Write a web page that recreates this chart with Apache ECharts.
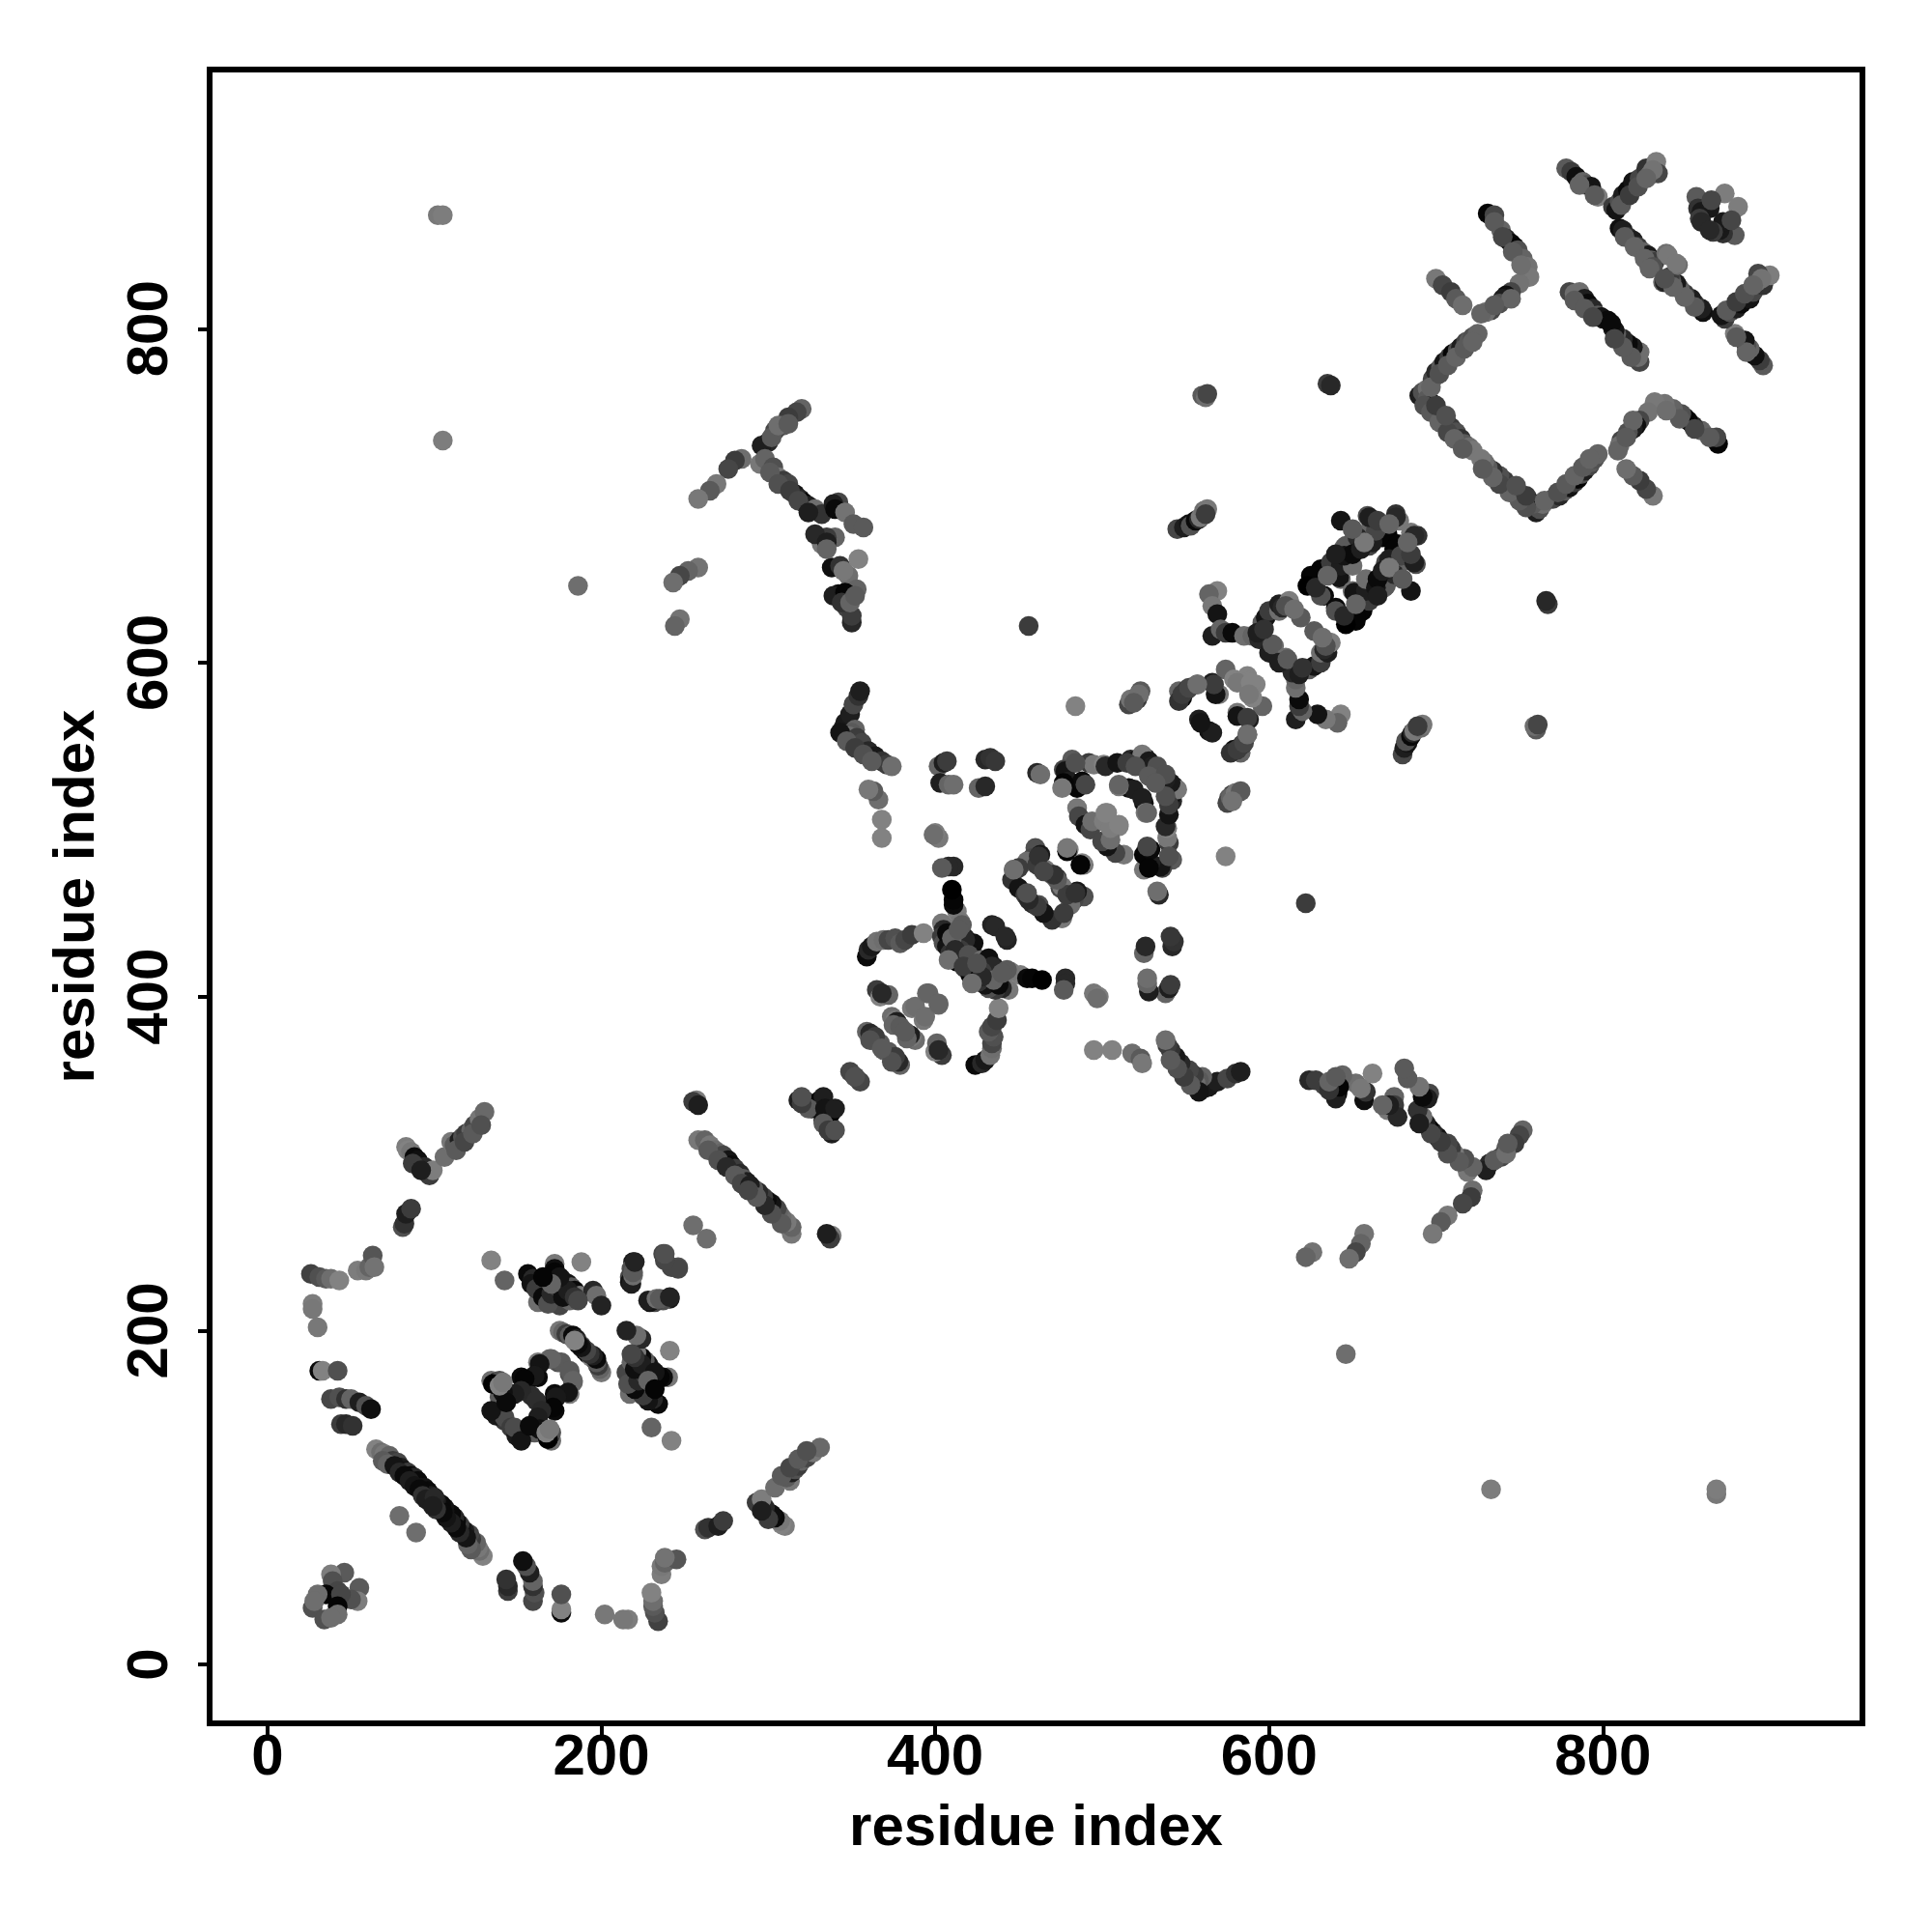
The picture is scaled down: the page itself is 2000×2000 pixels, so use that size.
<!DOCTYPE html>
<html><head><meta charset="utf-8">
<script src="https://cdn.jsdelivr.net/npm/echarts@6/dist/echarts.min.js"></script>
<style>html,body{margin:0;background:#fff}#c{width:2000px;height:2000px}</style></head>
<body><div id="c"></div>
<script>
// contacts: [residue i, residue j, grey score]; the map is symmetric, i < j listed
const tickLabels = [0, 200, 400, 600, 800];
const lowLeft = [[46,55,90],[38,54,125],[39,50,80],[42,44,70],[35,42,5],[30,42,110],[27,34,80],[28,38,110]];
const crossBand1 = [[65,129,130],[68,127,110],[70,126,120],[73,125,100],[75,122,60],[78,121,70],[80,118,30],[82,116,20],[84,115,60],[86,113,10],[88,112,40],[90,110,10],[92,106,30],[94,106,20],[96,104,10],[98,101,30],[100,100,40],[79,89,110]];
const leftEdge = [[26,234,65],[31,232,80],[35,231,90],[38,231,110],[43,230,130],[54,236,125],[59,236,120],[61,238,100],[63,245,85],[64,238,115],[27,216,125],[27,213,120],[30,202,120],[31,176,10],[33,176,130],[42,176,80],[38,159,70],[43,160,80],[47,159,50],[50,159,100],[55,157,30],[59,155,80],[62,153,15],[44,144,60],[47,144,40],[51,143,50]];
const upperArm1 = [[83,310,125],[84,308,130],[86,307,120],[88,304,10],[90,302,15],[94,298,40],[97,293,60],[99,296,125],[106,304,110],[110,313,120],[112,311,90],[115,314,30],[117,316,80],[119,318,60],[122,320,100],[124,323,70],[127,327,120],[130,331,105],[81,262,80],[82,264,50],[83,270,30],[86,273,60]];
const blockTop = [[134,242,130],[142,230,100],[156,234,10],[159,231,40],[163,228,30],[166,224,20],[169,221,50],[172,218,25],[175,215,70],[162,217,110],[172,240,120],[172,237,15],[172,235,5],[176,231,90],[178,229,50],[180,228,20],[182,226,90],[184,224,10],[187,221,120],[188,241,130],[195,224,40],[197,221,110],[200,215,35],[178,222,60],[181,218,100]];
const blockRight = [[219,241,25],[218,237,80],[217,232,70],[217,229,20],[237,246,70],[242,238,70],[246,238,80],[218,228,30],[219,233,110],[219,235,90],[220,241,35]];
const blockMid = [[175,200,120],[177,199,100],[179,198,60],[181,197,90],[183,197,10],[185,195,30],[186,193,50],[188,191,70],[190,188,20],[192,186,10],[194,184,130]];
const ring1 = [[134,170,110],[137,169,10],[139,170,80],[139,160,90],[143,158,120],[146,162,50],[152,172,10],[156,170,5],[162,172,10],[162,181,125],[169,183,105],[174,181,80],[176,181,90],[170,183,100],[163,180,20],[160,173,25],[154,171,5],[158,161,45],[152,164,40],[148,162,30],[141,163,15],[139,151,10],[142,146,60],[137,149,25],[142,148,75],[134,152,20],[143,157,10],[135,168,0],[139,167,130],[141,169,120]];
const band2 = [[255,263,110],[258,314,120],[262,314,100],[265,311,120],[268,308,110],[271,306,100],[273,305,70],[276,302,20],[278,299,10],[280,297,60],[283,294,40],[285,291,90],[287,289,30],[257,338,125],[255,337,60],[258,335,30]];
const block3 = [[318,338,30],[323,337,50],[326,333,15],[331,338,0],[333,334,20],[333,340,30],[324,333,90],[320,336,60],[320,340,80],[349,355,70],[352,352,80]];
const cluster4 = [[359,379,100],[361,378,40],[363,374,30],[365,373,120],[367,372,90],[364,376,60],[374,388,110],[376,386,120],[377,385,30],[365,404,60],[367,400,130],[372,401,100],[368,402,40],[386,393,120],[388,394,110],[395,402,105],[396,402,100]];
const band5 = [[359,424,10],[360,428,40],[362,430,25],[365,433,115],[369,434,110],[372,434,70],[376,435,80],[379,432,90],[382,434,70],[386,437,60],[393,438,130],[404,444,120],[405,440,40],[404,436,60],[405,432,80],[407,430,20],[409,426,50],[412,422,30],[413,451,125],[415,445,120],[417,436,100],[420,432,60],[422,428,110],[415,423,40],[418,426,20],[418,435,30],[423,432,15],[418,434,40],[415,428,60],[413,421,5],[407,438,10],[416,443,90],[434,443,35],[436,442,40]];
const band6 = [[411,455,10],[411,458,5],[410,464,0],[411,478,40],[408,478,40],[404,477,90],[402,495,120],[400,498,125],[399,497,110],[368,506,130],[368,495,130],[366,518,110],[363,523,90],[360,524,120],[345,561,40],[346,564,25],[349,569,30],[351,575,70],[354,580,50],[355,583,30],[352,560,100],[350,558,90],[348,556,110],[353,555,60],[356,552,70],[360,547,40],[364,544,25],[368,541,50],[371,539,60],[374,538,110]];
const block7 = [[402,538,100],[405,540,30],[407,541,60],[403,528,30],[408,527,100],[411,527,110],[426,525,100],[430,526,40],[430,542,40],[433,543,50],[436,541,55],[461,534,40],[463,533,110],[484,574,130],[456,622,60]];
const block8 = [[460,489,80],[458,483,70],[461,480,30],[463,485,25],[466,476,120],[447,476,120],[446,470,50],[450,465,20],[454,461,60],[458,456,40],[462,455,80],[455,481,110],[450,477,60],[480,488,130],[479,487,5],[489,479,120],[461,479,60],[462,484,50],[470,473,90],[473,471,50],[475,465,70],[476,447,110]];
const ring9 = [[482,542,90],[477,536,70],[478,535,20],[480,529,30],[485,525,5],[488,529,10],[492,540,60],[495,539,120],[501,539,130],[502,538,40],[509,540,20],[517,542,40],[521,542,15],[526,543,30],[524,545,120],[528,541,25],[530,538,30],[533,538,80],[485,513,120],[486,508,70],[490,503,20],[493,500,70],[494,505,110],[501,505,125],[503,510,130],[510,502,130],[516,525,15],[519,524,30],[510,526,120],[510,527,100],[490,527,70],[477,528,5],[484,540,80],[525,476,120]];
const arm10 = [[516,575,70],[519,577,100],[522,580,120],[523,583,90],[517,578,115],[578,521,60],[581,522,110],[576,519,90],[560,760,90],[562,759,110],[563,761,70],[635,767,60],[637,766,40],[186,646,110],[102,868,120],[105,868,125],[105,733,125]];
const diag11 = [[545,680,70],[549,681,30],[552,683,20],[553,682,80],[556,685,10],[558,686,40],[559,687,120],[561,691,110],[563,692,120],[562,689,60]];
const diag12 = [[569,643,130],[564,641,100],[566,634,120],[569,629,20],[566,616,30],[571,620,100],[574,618,60],[578,618,10],[585,616,110],[592,617,70],[590,616,100],[594,614,40],[596,624,90],[598,627,20],[600,631,60],[606,631,110],[606,635,30],[612,636,70],[612,637,125],[619,627,90],[603,610,110],[600,606,30],[602,611,90],[608,633,40],[610,634,80],[615,632,110],[593,618,30],[597,620,50]];
const diag13 = [[546,583,100],[548,579,10],[551,584,40],[557,587,100],[566,588,30],[570,581,120],[574,596,100],[579,590,130],[587,592,130],[588,589,130],[581,588,120],[568,581,20],[567,587,60],[558,566,30],[564,559,20],[546,577,50],[548,581,60],[552,585,70],[557,587,110]];
const diag14 = [[643,685,20],[659,688,80],[661,684,120],[676,689,50],[678,685,120],[676,687,40],[671,677,5],[668,675,5],[661,680,100],[650,672,15],[645,669,110],[660,670,70],[662,672,30],[664,679,70],[660,687,30],[625,652,5],[631,656,5],[637,660,60],[643,650,110],[633,640,10],[627,652,5],[623,646,0],[631,640,80],[642,651,20],[643,658,30],[646,670,90],[653,675,40],[650,658,110],[645,664,20],[650,665,10],[655,668,30],[657,672,120]];
const armS = [[320,752,100],[317,750,70],[312,747,60],[309,742,90],[304,739,70],[300,732,40],[296,730,30],[295,719,120],[298,722,100],[303,717,80],[306,711,120],[309,709,60],[312,707,70],[316,701,20],[319,698,40],[321,696,0],[324,694,30],[328,692,110],[332,689,50],[342,696,70],[339,695,30],[340,692,10],[346,690,115],[351,683,90],[357,681,90],[332,671,120],[340,675,100],[335,675,60],[328,677,40],[335,672,30],[338,657,15],[343,658,50],[354,662,130],[348,652,110],[353,644,100],[342,641,10],[339,640,30],[346,642,5],[347,633,70],[350,624,40],[350,628,60],[284,722,110],[280,721,60],[276,716,70],[269,707,120],[265,703,90],[258,698,120],[258,657,115],[252,655,100],[247,652,70],[243,648,110],[247,626,115],[244,622,100]];
const ringW = [[690,760,30],[692,762,80],[695,764,110],[698,770,70],[700,774,40],[703,777,90],[705,780,20],[708,783,60],[710,785,5],[713,787,80],[715,789,30],[718,792,70],[720,793,90],[722,795,80],[725,797,100],[695,758,90],[698,755,10],[700,751,50],[703,748,90],[706,745,40],[709,741,60],[712,738,80],[715,734,50],[717,731,90],[720,729,110],[722,727,120]];
const ringW2 = [[731,869,5],[735,868,70],[739,859,100],[742,854,40],[745,851,10],[747,849,5],[749,847,80],[752,842,100],[755,837,115],[756,831,120],[750,827,115],[745,822,70],[742,820,15],[740,818,30],[733,811,70],[730,810,110],[727,809,100],[700,830,120],[704,826,70],[709,822,60],[712,818,90],[716,814,110]];
const upperW = [[780,822,70],[783,821,110],[786,822,110],[789,818,30],[791,815,10],[794,812,40],[797,808,90],[800,806,30],[799,807,20],[803,805,10],[778,896,90],[781,894,60],[784,891,15],[788,888,100],[790,886,80],[793,885,20],[797,879,125],[810,860,15],[812,859,30],[815,855,50],[818,853,30],[821,849,60],[824,846,100],[827,844,25],[829,841,90],[831,840,60],[828,837,35],[838,845,110],[839,844,120],[836,828,100],[806,873,60],[808,871,20],[810,876,80],[812,880,30],[815,883,10],[818,888,20],[822,890,70],[826,896,50],[828,892,110],[832,900,125],[833,893,70],[830,895,115]];
const clusterEnd = [[856,879,90],[857,872,50],[859,870,25],[864,872,25],[858,866,60],[859,864,40],[873,881,125],[865,877,70]];
// further contacts lying alongside the bands above, drawn last
const sideContacts = [[69,122,90],[72,120,100],[76,119,20],[79,115,40],[82,113,10],[85,110,30],[88,107,20],[91,105,10],[93,101,50],[95,99,30],
[158,228,20],[161,225,60],[165,220,10],[168,216,80],[170,222,40],[174,226,60],[177,220,15],[180,224,30],[184,220,50],[186,218,70],[175,232,20],[170,228,100],[165,232,5],
[693,754,80],[697,750,90],[702,744,100],[707,738,70],[711,734,100],[716,728,90],[700,754,60],[706,748,80],[697,765,100],[702,773,80],[707,778,90],[712,783,100],[717,788,90],[722,792,100],
[735,864,90],[740,855,70],[746,846,90],[751,838,110],[738,815,80],[745,818,100],[735,814,90],[786,886,100],[795,880,90],[813,855,90],[819,849,100],[825,842,100],[830,837,80],[811,874,90],[816,880,60],[821,885,80],[826,890,100],[783,817,90],[789,812,90],[794,807,70],
[302,735,90],[306,742,110],[312,743,90],[301,714,90],[306,707,80],[313,703,60],[318,697,70],[324,690,30],[335,668,100],[345,655,120],[344,636,50],[349,636,100],[352,640,90],
[264,308,90],[270,302,80],[275,298,40],[280,293,90],[284,288,70],[343,558,20],[347,553,90],[352,549,60],[357,545,80],[362,541,90],
[361,374,80],[369,368,90],[375,383,100],[379,382,90],[410,435,100],[414,440,90],[412,428,40],[418,417,60],[420,425,80],[408,422,110],
[87,300,60],[92,296,30],[113,308,90],[118,313,70],[123,318,90],[128,323,80],[515,540,60],[520,538,80],[528,532,90],[628,645,40],[635,652,100],[640,665,30],[650,680,90],[665,685,60],[672,683,100]];

const contacts = [].concat(lowLeft, crossBand1, leftEdge, upperArm1, blockTop, blockRight, blockMid, ring1, band2, block3, cluster4, band5, band6, block7, block8, ring9, arm10, diag11, diag12, diag13, diag14, armS, ringW, ringW2, upperW, clusterEnd, sideContacts);
const grey = g => `rgb(${g},${g},${g})`;
const toItem = (a, b, g) => ({ value: [a, b], itemStyle: { color: grey(g), opacity: 1 } });
const points = [];
contacts.forEach(c => points.push(toItem(c[0], c[1], c[2])));
contacts.forEach(c => points.push(toItem(c[1], c[0], c[2])));

const font = '"Liberation Sans", Arial, sans-serif';
const ax = (extra) => Object.assign({
  type: 'value', name: 'residue index', nameLocation: 'middle',
  nameTextStyle: { fontFamily: font, fontWeight: 'bold', fontSize: 60, color: '#000' },
  axisLine: { show: false, onZero: false }, splitLine: { show: false },
  axisTick: { show: true, length: 12, inside: false, lineStyle: { color: '#000', width: 4 }, customValues: tickLabels },
}, extra);
const chart = echarts.init(document.getElementById('c'), null, { renderer: 'canvas' });
chart.setOption({
  animation: false, backgroundColor: '#fff',
  grid: { left: 217, top: 72, width: 1711, height: 1712, show: true, borderColor: '#000', borderWidth: 6, backgroundColor: 'transparent' },
  xAxis: ax({ min: -34.7, max: 955.5, nameGap: 79, axisLabel: { fontFamily: font, fontWeight: 'bold', fontSize: 60, color: '#000', margin: 6, customValues: tickLabels, showMinLabel: true } }),
  yAxis: ax({ min: -35.2, max: 955.2, nameGap: 107, axisLabel: { fontFamily: font, fontWeight: 'bold', fontSize: 60, color: '#000', margin: 31, rotate: 90, customValues: tickLabels } }),
  series: [{ type: 'scatter', symbol: 'circle', symbolSize: 20.5, data: points, clip: true, large: false, itemStyle: { opacity: 1 } }]
});
</script></body></html>
